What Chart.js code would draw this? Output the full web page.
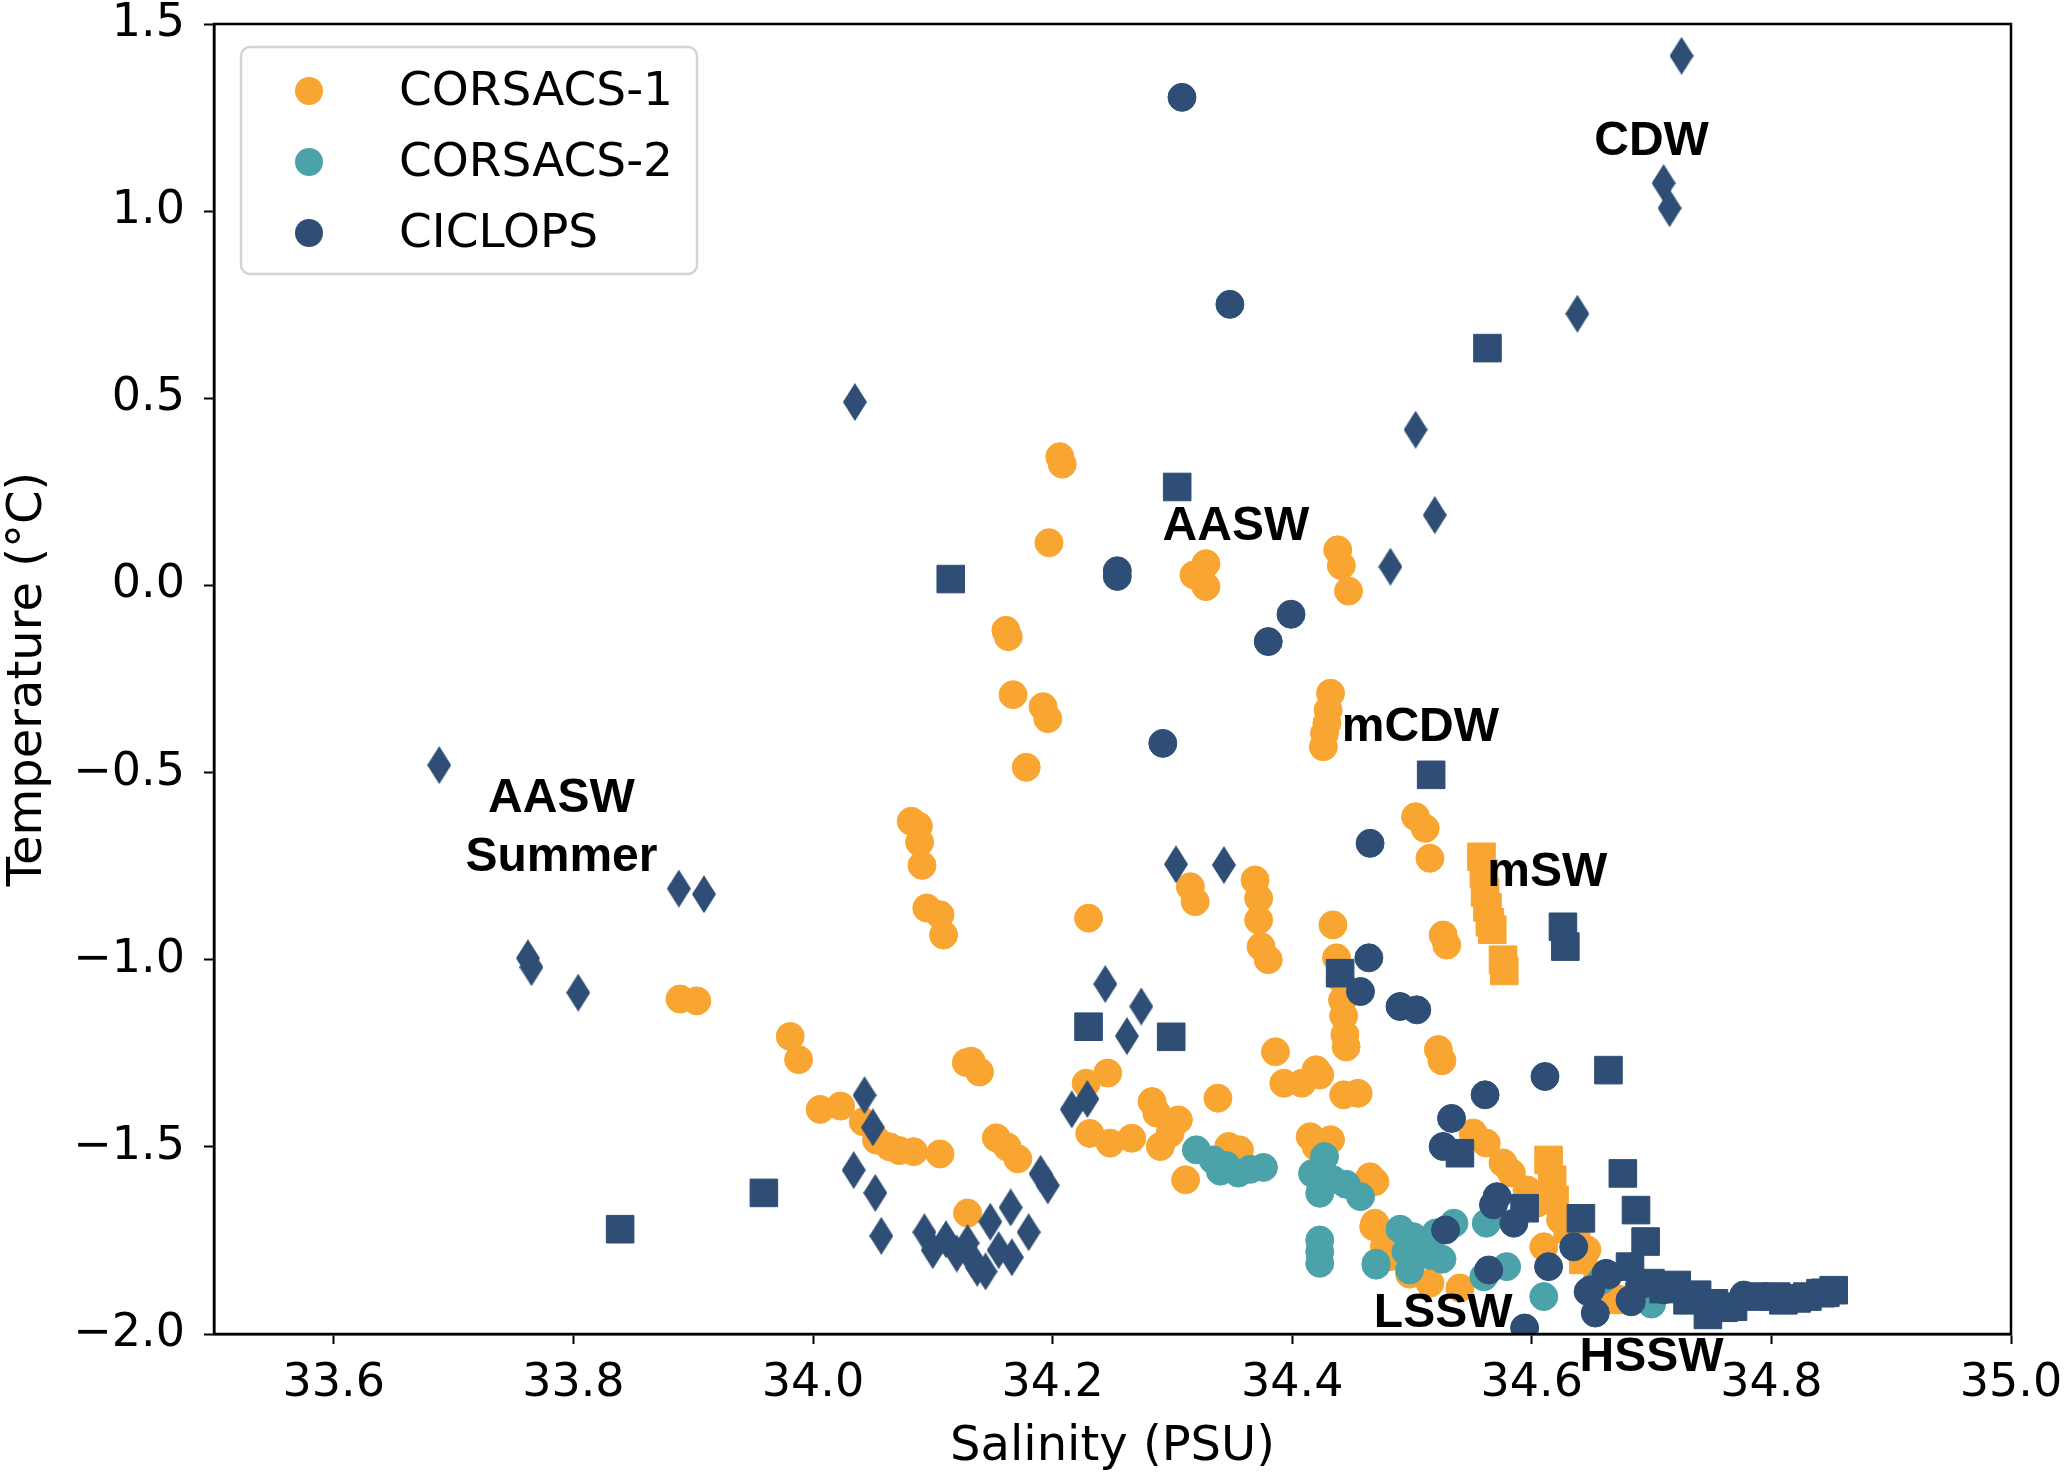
<!DOCTYPE html>
<html>
<head>
<meta charset="utf-8">
<title>Temperature vs Salinity</title>
<script src="https://cdn.jsdelivr.net/npm/chart.js@4.4.1/dist/chart.umd.min.js"></script>
<style>
  html, body { margin: 0; padding: 0; background: #fff; }
  #wrap { width: 2067px; height: 1478px; }
</style>
</head>
<body>
<div id="wrap"><canvas id="tsChart" width="2067" height="1478"></canvas></div>
<script>
// ===== DATA (salinity PSU, temperature °C) =====
const xTicks = [33.6, 33.8, 34.0, 34.2, 34.4, 34.6, 34.8, 35.0];
const yTicks = [-2.0, -1.5, -1.0, -0.5, 0.0, 0.5, 1.0, 1.5];

const corsacs1Circles = [
  [34.206, 0.344], [34.208, 0.324], [34.197, 0.114], [34.161, -0.12], [34.163, -0.137],
  [34.167, -0.292], [34.192, -0.324], [34.196, -0.356], [34.178, -0.486],
  [34.318, 0.028], [34.328, 0.058], [34.328, -0.003], [34.323, 0.02],
  [34.438, 0.095], [34.441, 0.053], [34.447, -0.015],
  [34.432, -0.288], [34.430, -0.333], [34.429, -0.368], [34.427, -0.395], [34.426, -0.431],
  [34.503, -0.618], [34.511, -0.649], [34.515, -0.729], [34.526, -0.934], [34.529, -0.961],
  [34.230, -0.889], [34.315, -0.805], [34.319, -0.845],
  [34.369, -0.787], [34.372, -0.836], [34.372, -0.894], [34.374, -0.965], [34.380, -1.0],
  [34.434, -0.907], [34.437, -0.995], [34.440, -1.05], [34.442, -1.108], [34.443, -1.15],
  [34.444, -1.20], [34.445, -1.233],
  [34.386, -1.246], [34.393, -1.330], [34.408, -1.330], [34.420, -1.294], [34.423, -1.308],
  [34.443, -1.361], [34.455, -1.357],
  [34.415, -1.473], [34.432, -1.481], [34.420, -1.50], [34.465, -1.580], [34.469, -1.593],
  [34.469, -1.704], [34.477, -1.767],
  [34.522, -1.240], [34.525, -1.270],
  [34.551, -1.463], [34.562, -1.490], [34.576, -1.543], [34.583, -1.570], [34.596, -1.615],
  [34.604, -1.651], [34.624, -1.695], [34.637, -1.731], [34.646, -1.775],
  [34.468, -1.713], [34.482, -1.793], [34.515, -1.864], [34.540, -1.877], [34.610, -1.767],
  [34.498, -1.84], [34.668, -1.901], [34.640, -1.78],
  [34.246, -1.303], [34.228, -1.330], [34.231, -1.464], [34.248, -1.490], [34.266, -1.477],
  [34.283, -1.379], [34.287, -1.410], [34.305, -1.428], [34.298, -1.464], [34.290, -1.499],
  [34.338, -1.370], [34.311, -1.588], [34.347, -1.499], [34.356, -1.508],
  [34.082, -0.63], [34.088, -0.643], [34.089, -0.686], [34.091, -0.748], [34.095, -0.862],
  [34.106, -0.880], [34.109, -0.934],
  [33.889, -1.105], [33.903, -1.110], [33.981, -1.205], [33.988, -1.267],
  [34.006, -1.400], [34.023, -1.391],
  [34.042, -1.433], [34.053, -1.482], [34.064, -1.500], [34.072, -1.51], [34.084, -1.513],
  [34.106, -1.519],
  [34.128, -1.275], [34.132, -1.271], [34.139, -1.300],
  [34.153, -1.476], [34.162, -1.500], [34.171, -1.532], [34.129, -1.677]
];

const corsacs1Squares = [
  [34.558, -0.725], [34.560, -0.77], [34.561, -0.82], [34.563, -0.86], [34.565, -0.90],
  [34.567, -0.92], [34.576, -1.00], [34.577, -1.03],
  [34.614, -1.535], [34.617, -1.588], [34.619, -1.642], [34.630, -1.72], [34.643, -1.802],
  [34.655, -1.86], [34.668, -1.909]
];

const corsacs2Circles = [
  [34.320, -1.508], [34.334, -1.535], [34.340, -1.565], [34.345, -1.55], [34.355, -1.57],
  [34.365, -1.56], [34.376, -1.555],
  [34.427, -1.526], [34.417, -1.571], [34.423, -1.624], [34.434, -1.588], [34.445, -1.60],
  [34.457, -1.633],
  [34.423, -1.749], [34.423, -1.78], [34.423, -1.811], [34.470, -1.816],
  [34.490, -1.72], [34.501, -1.740], [34.510, -1.76], [34.520, -1.73], [34.495, -1.78],
  [34.515, -1.79], [34.535, -1.704], [34.470, -1.811], [34.498, -1.829], [34.525, -1.80],
  [34.562, -1.704], [34.560, -1.847], [34.579, -1.820], [34.610, -1.900], [34.658, -1.856],
  [34.690, -1.89], [34.700, -1.92]
];

const ciclopsCircles = [
  [34.308, 1.304], [34.348, 0.751], [34.254, 0.039], [34.254, 0.024], [34.399, -0.077],
  [34.380, -0.150], [34.292, -0.422], [34.465, -0.689],
  [34.464, -0.995], [34.457, -1.085], [34.490, -1.125], [34.504, -1.134], [34.561, -1.361],
  [34.611, -1.312], [34.533, -1.424], [34.526, -1.499],
  [34.571, -1.633], [34.568, -1.655], [34.585, -1.704], [34.528, -1.722], [34.564, -1.829],
  [34.614, -1.820], [34.635, -1.767], [34.647, -1.887], [34.653, -1.944], [34.662, -1.838],
  [34.682, -1.909], [34.594, -1.984], [34.664, -1.842], [34.649, -1.882], [34.683, -1.914],
  [34.690, -1.87], [34.710, -1.882], [34.730, -1.90], [34.755, -1.92], [34.777, -1.896]
];

const ciclopsSquares = [
  [34.115, 0.017], [34.304, 0.263], [34.563, 0.634], [34.516, -0.506], [34.626, -0.912],
  [34.628, -0.965], [34.440, -1.036], [34.230, -1.179], [34.299, -1.206], [33.839, -1.72],
  [33.959, -1.623], [34.664, -1.295], [34.540, -1.517], [34.594, -1.664], [34.641, -1.691],
  [34.676, -1.571], [34.687, -1.669], [34.695, -1.753], [34.682, -1.820],
  [34.699, -1.864], [34.710, -1.88], [34.721, -1.869], [34.730, -1.91], [34.738, -1.895],
  [34.747, -1.949], [34.752, -1.918], [34.760, -1.93], [34.768, -1.927], [34.786, -1.90],
  [34.804, -1.900], [34.810, -1.91], [34.821, -1.905], [34.830, -1.90], [34.841, -1.891],
  [34.845, -1.89], [34.852, -1.883]
];

const ciclopsDiamonds = [
  [33.688, -0.48], [34.035, 0.49], [34.725, 1.415], [34.710, 1.075], [34.715, 1.008],
  [34.638, 0.726], [34.503, 0.416], [34.519, 0.188], [34.482, 0.05],
  [34.303, -0.745], [34.343, -0.747], [33.888, -0.81], [33.909, -0.825], [33.762, -0.996],
  [33.765, -1.02], [33.804, -1.088],
  [34.244, -1.065], [34.274, -1.125], [34.262, -1.204], [34.216, -1.40], [34.229, -1.372],
  [34.043, -1.362], [34.050, -1.448], [34.034, -1.562], [34.052, -1.623], [34.057, -1.738],
  [34.190, -1.572], [34.196, -1.603],
  [34.093, -1.728], [34.100, -1.776], [34.111, -1.747], [34.120, -1.785], [34.129, -1.757],
  [34.133, -1.800], [34.137, -1.823], [34.144, -1.833], [34.148, -1.700], [34.155, -1.776],
  [34.165, -1.662], [34.166, -1.795], [34.180, -1.728]
];

// water mass labels: text, salinity, temperature
const waterMassLabels = [
  ['CDW', 34.700, 1.185],
  ['AASW', 34.353, 0.156],
  ['mCDW', 34.507, -0.38],
  ['mSW', 34.613, -0.767],
  ['LSSW', 34.526, -1.946],
  ['HSSW', 34.700, -2.063],
  ['AASW', 33.790, -0.57],
  ['Summer', 33.790, -0.728]
];

const legendLabels = ['CORSACS-1', 'CORSACS-2', 'CICLOPS'];

// ===== STYLE =====
const ORANGE = '#F9A532';
const TEAL = '#4CA2A9';
const NAVY = '#2E4E75';
const TEXT_FONT = '"DejaVu Sans", Verdana, sans-serif';

const toPoints = arr => arr.map(([x, y]) => ({ x, y }));

const makeDiamond = (w, h, color) => {
  const c = document.createElement('canvas');
  c.width = w;
  c.height = h;
  const g = c.getContext('2d');
  g.fillStyle = color;
  g.beginPath();
  g.moveTo(w / 2, 0);
  g.lineTo(w, h / 2);
  g.lineTo(w / 2, h);
  g.lineTo(0, h / 2);
  g.closePath();
  g.fill();
  return c;
};

// ===== PLUGIN: frame, water mass labels, legend =====
const decorPlugin = {
  id: 'decor',
  afterDraw(chart) {
    const { ctx, chartArea: a, scales } = chart;
    ctx.save();

    // axes frame
    ctx.strokeStyle = '#000';
    ctx.lineWidth = 2.5;
    ctx.strokeRect(a.left, a.top, a.right - a.left, a.bottom - a.top);

    // water mass labels
    ctx.fillStyle = '#000';
    ctx.font = 'bold 48px "Liberation Sans", Arial, sans-serif';
    ctx.textAlign = 'center';
    ctx.textBaseline = 'middle';
    waterMassLabels.forEach(([txt, s, t]) => {
      ctx.fillText(txt, scales.x.getPixelForValue(s), scales.y.getPixelForValue(t));
    });

    // legend box
    const box = { x: 241, y: 47, w: 456, h: 227, r: 9 };
    ctx.beginPath();
    ctx.moveTo(box.x + box.r, box.y);
    ctx.arcTo(box.x + box.w, box.y, box.x + box.w, box.y + box.h, box.r);
    ctx.arcTo(box.x + box.w, box.y + box.h, box.x, box.y + box.h, box.r);
    ctx.arcTo(box.x, box.y + box.h, box.x, box.y, box.r);
    ctx.arcTo(box.x, box.y, box.x + box.w, box.y, box.r);
    ctx.closePath();
    ctx.fillStyle = 'rgba(255,255,255,0.85)';
    ctx.fill();
    ctx.strokeStyle = '#d4d4d4';
    ctx.lineWidth = 2.5;
    ctx.stroke();

    ctx.font = '47px ' + TEXT_FONT;
    ctx.textAlign = 'left';
    legendLabels.forEach((label, i) => {
      const ds = chart.data.datasets.find(d => d.label === label);
      const rowY = 91 + i * 71;
      ctx.beginPath();
      ctx.arc(309, rowY, 14, 0, Math.PI * 2);
      ctx.fillStyle = ds.backgroundColor;
      ctx.fill();
      ctx.fillStyle = '#000';
      ctx.fillText(label, 399, rowY + 2);
    });

    ctx.restore();
  }
};

// ===== CHART =====
const circleSet = (label, data, color, order) => ({
  label,
  data: toPoints(data),
  backgroundColor: color,
  borderColor: color,
  borderWidth: 1,
  pointStyle: 'circle',
  pointRadius: 14,
  order
});

const squareSet = (label, data, color, order) => ({
  label,
  data: toPoints(data),
  backgroundColor: color,
  borderColor: color,
  borderWidth: 1,
  pointStyle: 'rect',
  pointRadius: 19.5,
  order
});

// keep tick labels from pushing the plot area in
const fixX = scale => {
  scale.height = 144;
  scale.paddingLeft = 0;
  scale.paddingRight = 0;
};
const fixY = scale => {
  scale.width = 214;
  scale.paddingTop = 0;
  scale.paddingBottom = 0;
};

const ctx = document.getElementById('tsChart');

new Chart(ctx, {
  type: 'scatter',
  data: {
    datasets: [
      circleSet('CORSACS-1', corsacs1Circles, ORANGE, 6),
      squareSet('CORSACS-1 squares', corsacs1Squares, ORANGE, 5),
      circleSet('CORSACS-2', corsacs2Circles, TEAL, 4),
      circleSet('CICLOPS', ciclopsCircles, NAVY, 3),
      {
        label: 'CICLOPS diamonds',
        data: toPoints(ciclopsDiamonds),
        backgroundColor: NAVY,
        pointStyle: makeDiamond(24, 38, NAVY),
        order: 2
      },
      squareSet('CICLOPS squares', ciclopsSquares, NAVY, 1)
    ]
  },
  options: {
    responsive: false,
    devicePixelRatio: 1,
    animation: false,
    events: [],
    layout: { padding: { top: 24, right: 56, left: 0, bottom: 0 } },
    plugins: {
      legend: { display: false },
      tooltip: { enabled: false }
    },
    scales: {
      x: {
        type: 'linear',
        min: 33.5,
        max: 35.0,
        afterBuildTicks: scale => { scale.ticks = xTicks.map(v => ({ value: v })); },
        afterFit: fixX,
        grid: { drawOnChartArea: false, drawTicks: true, tickLength: 10, tickWidth: 2, tickColor: '#000' },
        border: { display: true, color: '#000', width: 2.5 },
        ticks: {
          color: '#000',
          font: { family: TEXT_FONT, size: 46 },
          padding: 12,
          maxRotation: 0,
          autoSkip: false,
          callback: v => v.toFixed(1)
        },
        title: {
          display: true,
          text: 'Salinity (PSU)',
          color: '#000',
          font: { family: TEXT_FONT, size: 48 },
          padding: { top: 0, bottom: 2 }
        }
      },
      y: {
        type: 'linear',
        min: -2.0,
        max: 1.5,
        afterBuildTicks: scale => { scale.ticks = yTicks.map(v => ({ value: v })); },
        afterFit: fixY,
        grid: { drawOnChartArea: false, drawTicks: true, tickLength: 10, tickWidth: 2, tickColor: '#000' },
        border: { display: true, color: '#000', width: 2.5 },
        ticks: {
          color: '#000',
          font: { family: TEXT_FONT, size: 46 },
          padding: 19,
          autoSkip: false,
          callback: v => (v < 0 ? '\u2212' : '') + Math.abs(v).toFixed(1)
        },
        title: {
          display: true,
          text: 'Temperature (°C)',
          color: '#000',
          font: { family: TEXT_FONT, size: 48 },
          padding: { top: 0, bottom: 0 }
        }
      }
    }
  },
  plugins: [decorPlugin]
});
</script>
</body>
</html>
